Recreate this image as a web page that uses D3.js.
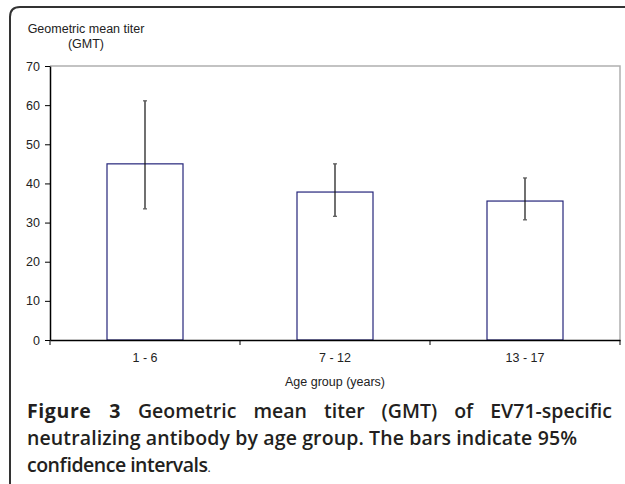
<!DOCTYPE html>
<html><head><meta charset="utf-8">
<script src="https://cdn.jsdelivr.net/npm/d3@7"></script>
<style>
html,body{margin:0;padding:0;background:#fff;}
svg{display:block;}
</style></head>
<body>
<svg id="chart" width="625" height="484"></svg>
<script>
const categories = ["1 - 6", "7 - 12", "13 - 17"];
const gmt = [45.0, 37.8, 35.5];
const ciLow = [33.5, 31.6, 30.7];
const ciHigh = [61.1, 45.0, 41.4];
const yTicks = [0, 10, 20, 30, 40, 50, 60, 70];
const yTitle = ["Geometric mean titer", "(GMT)"];
const xTitle = "Age group (years)";
const captionLines = [
  [{t:"Figure 3", b:true}, {t:" Geometric mean titer (GMT) of EV71-specific"}],
  [{t:"neutralizing antibody by age group. The bars indicate 95%"}],
  [{t:"confidence intervals"}, {t:".", small:true}]
];

const svg = d3.select("#chart");
const L = 50, R = 620, T = 66, B = 340;

// card border
svg.append("path")
  .attr("d", "M10,500 L10,17 Q10,7 20,7 L640,7")
  .attr("fill", "none").attr("stroke", "#333").attr("stroke-width", 2);

const x = d3.scaleBand().domain(categories).range([L, R]).paddingInner(0.6).paddingOuter(0.3);
const y = d3.scaleLinear().domain([0, 70]).range([B, T]);

// plot frame (top/right gray)
svg.append("path").attr("d", `M${L},${T}H${R}V${B}`)
  .attr("fill", "none").attr("stroke", "#b0b0b0").attr("stroke-width", 1.5);

const tickFont = "'Liberation Sans', Arial, sans-serif";

// y axis
const yAxis = svg.append("g").attr("transform", `translate(${L},0)`)
  .call(d3.axisLeft(y).tickValues(yTicks).tickSize(5).tickSizeOuter(0).tickPadding(5));
yAxis.select(".domain").attr("stroke", "#000").attr("stroke-width", 1.5);
yAxis.selectAll(".tick line").attr("stroke", "#000");
yAxis.selectAll("text").attr("font-family", tickFont).attr("font-size", 12.5).attr("fill", "#222");

// bars
svg.selectAll("rect.bar").data(categories).enter().append("rect")
  .attr("class", "bar")
  .attr("x", d => x(d)).attr("width", x.bandwidth())
  .attr("y", (d, i) => y(gmt[i])).attr("height", (d, i) => y(0) - y(gmt[i]))
  .attr("fill", "#fff").attr("stroke", "#25257a").attr("stroke-width", 1.2);

// error bars
const eb = svg.selectAll("g.err").data(categories).enter().append("g").attr("class", "err");
eb.append("line")
  .attr("x1", d => x(d) + x.bandwidth() / 2).attr("x2", d => x(d) + x.bandwidth() / 2)
  .attr("y1", (d, i) => y(ciLow[i])).attr("y2", (d, i) => y(ciHigh[i]))
  .attr("stroke", "#111").attr("stroke-width", 1.2);
[ciLow, ciHigh].forEach(arr => {
  eb.append("line")
    .attr("x1", d => x(d) + x.bandwidth() / 2 - 2).attr("x2", d => x(d) + x.bandwidth() / 2 + 2)
    .attr("y1", (d, i) => y(arr[i])).attr("y2", (d, i) => y(arr[i]))
    .attr("stroke", "#555").attr("stroke-width", 1.2);
});

// x axis
const xAxis = svg.append("g").attr("transform", `translate(0,${B})`)
  .call(d3.axisBottom(x).tickSize(0).tickSizeOuter(0).tickPadding(13));
xAxis.select(".domain").attr("stroke", "#000").attr("stroke-width", 1.5);
xAxis.selectAll("text").attr("font-family", tickFont).attr("font-size", 12.5).attr("fill", "#222");
const bounds = [L].concat(categories.map(c => x(c) + x.bandwidth() / 2 + x.step() / 2));
svg.selectAll("line.xb").data(bounds).enter().append("line").attr("class", "xb")
  .attr("x1", d => d).attr("x2", d => d).attr("y1", B).attr("y2", B + 5)
  .attr("stroke", "#000");

// axis titles
svg.append("text").attr("x", 86).attr("y", 33).attr("text-anchor", "middle")
  .attr("font-family", tickFont).attr("font-size", 12.5).attr("fill", "#222").text(yTitle[0]);
svg.append("text").attr("x", 86).attr("y", 48).attr("text-anchor", "middle")
  .attr("font-family", tickFont).attr("font-size", 12.5).attr("fill", "#222").text(yTitle[1]);
svg.append("text").attr("x", (L + R) / 2).attr("y", 386).attr("text-anchor", "middle")
  .attr("font-family", tickFont).attr("font-size", 12.5).attr("fill", "#222").text(xTitle);

// caption
const capFont = "'Open Sans', sans-serif";
const capX = 27, capRight = 612, capY = [418, 445, 472];
const fitWidths = [null, 550, 181];
captionLines.forEach((line, li) => {
  const t = svg.append("text").attr("x", capX).attr("y", capY[li])
    .attr("font-family", capFont).attr("font-size", 19.5).attr("font-weight", 600).attr("fill", "#231f20");
  line.forEach((seg, si) => {
    const s = t.append("tspan").text(seg.t);
    if (seg.b) s.attr("font-weight", 700).attr("letter-spacing", 0.6);
    if (seg.small) s.attr("font-size", 12).attr("font-weight", 400);
    if (si === 0 && fitWidths[li]) s.attr("textLength", fitWidths[li]).attr("lengthAdjust", "spacing");
  });
  if (li === 0) {
    const w = t.node().getComputedTextLength();
    const full = line.map(s => s.t).join("");
    const spaces = (full.match(/ /g) || []).length;
    const extra = (capRight - capX - w) / spaces;
    t.attr("word-spacing", Math.max(0, extra));
  }
});
</script>
</body></html>
